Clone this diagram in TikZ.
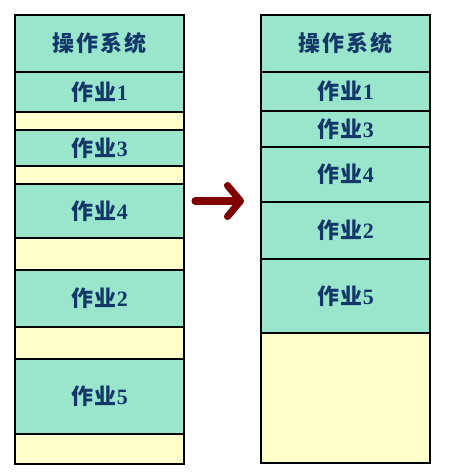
\documentclass[tikz,border=0pt]{standalone}
\usepackage{fontspec}
\setmainfont{Liberation Serif}
\newfontfamily\cjk[LetterSpace=8]{Noto Sans CJK SC}
\usetikzlibrary{positioning,arrows.meta}
\definecolor{jobgreen}{RGB}{153,230,204}
\definecolor{freeyellow}{RGB}{255,255,204}
\definecolor{textblue}{RGB}{20,55,105}
\definecolor{arrowred}{RGB}{128,0,0}
\tikzset{
  blk/.style={draw=black,line width=0.7pt,minimum width=3.38cm,inner sep=0pt,
    outer sep=0pt,font=\bfseries\fontsize{12.5}{14}\selectfont,text=textblue},
  job/.style={blk,fill=jobgreen},
  hole/.style={blk,fill=freeyellow}
}
\begin{document}
\begin{tikzpicture}[x=0.02cm,y=-0.02cm]
  \useasboundingbox (0,0) rectangle (451,476);

  % memory before compaction
  \node[job,minimum height=1.14cm,anchor=north west] (los) at (15,15) {\cjk 操作系统};
  \node[job,minimum height=0.80cm,below=0pt of los] (l1) {{\cjk 作业}1};
  \node[hole,minimum height=0.36cm,below=0pt of l1] (lf1) {};
  \node[job,minimum height=0.72cm,below=0pt of lf1] (l3) {{\cjk 作业}3};
  \node[hole,minimum height=0.36cm,below=0pt of l3] (lf2) {};
  \node[job,minimum height=1.08cm,below=0pt of lf2] (l4) {{\cjk 作业}4};
  \node[hole,minimum height=0.64cm,below=0pt of l4] (lf3) {};
  \node[job,minimum height=1.14cm,below=0pt of lf3] (l2) {{\cjk 作业}2};
  \node[hole,minimum height=0.64cm,below=0pt of l2] (lf4) {};
  \node[job,minimum height=1.50cm,below=0pt of lf4] (l5) {{\cjk 作业}5};
  \node[hole,minimum height=0.60cm,below=0pt of l5] (lf5) {};

  % memory after compaction
  \node[job,minimum height=1.14cm,anchor=north west] (ros) at (261,15) {\cjk 操作系统};
  \node[job,minimum height=0.78cm,below=0pt of ros] (r1) {{\cjk 作业}1};
  \node[job,minimum height=0.72cm,below=0pt of r1] (r3) {{\cjk 作业}3};
  \node[job,minimum height=1.10cm,below=0pt of r3] (r4) {{\cjk 作业}4};
  \node[job,minimum height=1.14cm,below=0pt of r4] (r2) {{\cjk 作业}2};
  \node[job,minimum height=1.48cm,below=0pt of r2] (r5) {{\cjk 作业}5};
  \node[hole,minimum height=2.60cm,below=0pt of r5] (rf) {};

  % arrow
  \coordinate (a0) at (195,201);
  \coordinate (a1) at (244,201);
  \draw[arrowred,line width=4pt,line cap=round,
    -{Straight Barb[length=2.6mm,width=6.2mm,round]}] (a0) -- (a1);
\end{tikzpicture}
\end{document}
